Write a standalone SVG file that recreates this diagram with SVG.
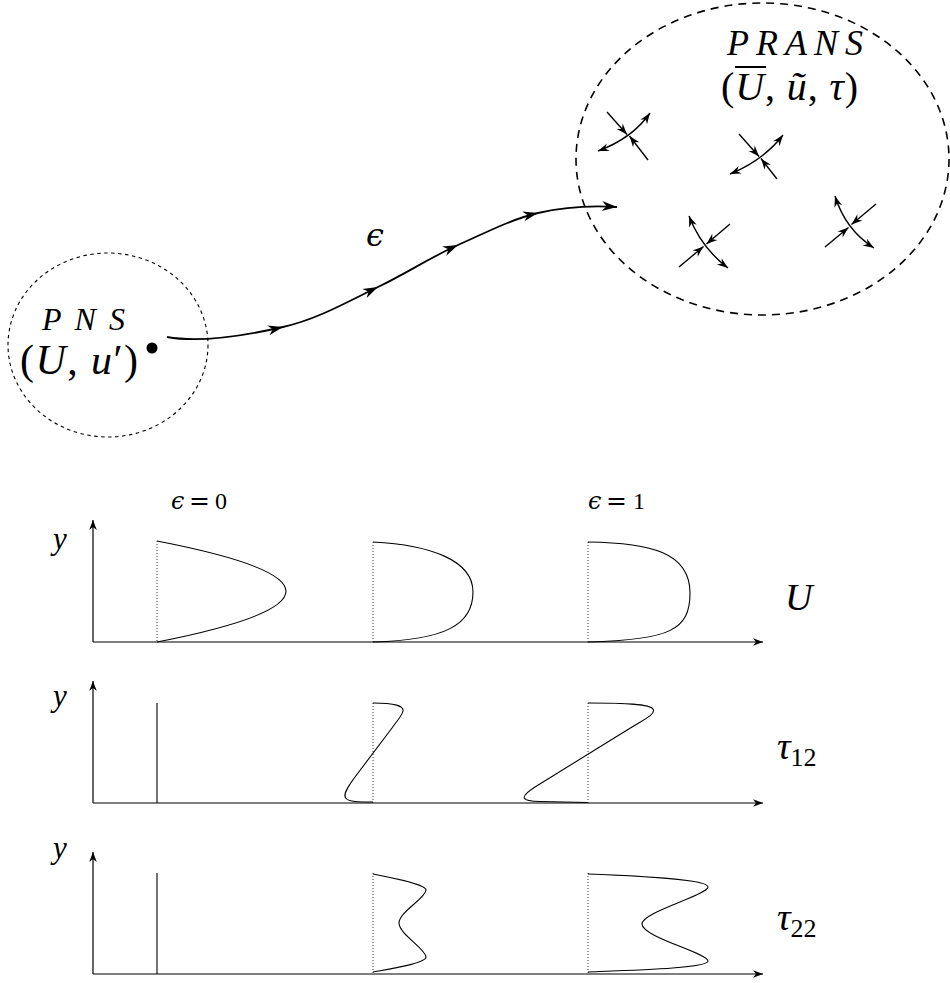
<svg xmlns="http://www.w3.org/2000/svg" width="950" height="983" viewBox="0 0 950 983">
<style>
.m{font-family:"Liberation Serif","DejaVu Serif",serif;font-style:italic;fill:#000}
.r{font-style:normal}
.e{font-family:"DejaVu Serif",serif;font-style:italic}
.q{font-family:"DejaVu Serif",serif;font-style:normal}
.ax{fill:none;stroke:#000;stroke-width:1.2}
.pf{fill:none;stroke:#000;stroke-width:1.1}
.dt{fill:none;stroke:#333;stroke-width:1;stroke-dasharray:1 2}
.cr{fill:none;stroke:#000;stroke-width:1.4}
</style>
<defs>
<marker id="big" viewBox="-16 -6 17 12" refX="0" refY="0" markerWidth="17" markerHeight="12" markerUnits="userSpaceOnUse" orient="auto">
<path d="M0,0 L-15,-5 L-10.5,0 L-15,5 Z" fill="#000"/>
</marker>
<marker id="sm" viewBox="-12 -5 13 10" refX="0" refY="0" markerWidth="13" markerHeight="10" markerUnits="userSpaceOnUse" orient="auto-start-reverse">
<path d="M0,0 L-11,-4 L-7.5,0 L-11,4 Z" fill="#000"/>
</marker>
<marker id="ax" viewBox="-11 -5 12 10" refX="0" refY="0" markerWidth="12" markerHeight="10" markerUnits="userSpaceOnUse" orient="auto">
<path d="M0,0 L-10,-3.8 L-7,0 L-10,3.8 Z" fill="#000"/>
</marker>
</defs>
<rect width="950" height="983" fill="#fff"/>

<g id="node-pns">
<ellipse cx="108" cy="345" rx="100" ry="92" fill="none" stroke="#000" stroke-width="1.1" stroke-dasharray="3.5 3.5"/>
<text class="m"><tspan x="42" y="330" font-size="32" textLength="83" lengthAdjust="spacing">PNS</tspan><tspan x="20" y="374" font-size="42" textLength="118" lengthAdjust="spacing"><tspan class="r">(</tspan>U<tspan class="r">, </tspan>u<tspan class="r">′)</tspan></tspan></text>
<circle cx="152" cy="348" r="5.5" fill="#000"/>
</g>

<g id="node-prans">
<ellipse cx="762.5" cy="159" rx="186.5" ry="156" fill="none" stroke="#000" stroke-width="1.6" stroke-dasharray="8 6"/>
<text class="m"><tspan x="727" y="55" font-size="36" textLength="136" lengthAdjust="spacing">PRANS</tspan><tspan x="721" y="100" font-size="40" textLength="137" lengthAdjust="spacing"><tspan class="r">(</tspan>U<tspan class="r">, </tspan>ũ<tspan class="r">, </tspan>τ<tspan class="r">)</tspan></tspan></text>
<line x1="735" y1="67" x2="766" y2="67" stroke="#000" stroke-width="2"/>
<g id="crosses">
<path class="cr" d="M607,112 L627,134.5" marker-end="url(#sm)"/>
<path class="cr" d="M648,160 L629.5,136" marker-end="url(#sm)"/>
<path class="cr" d="M598,151 Q632.4,138.3 650,113" marker-start="url(#sm)" marker-end="url(#sm)"/>
<path class="cr" d="M739,134 L759,156.5" marker-end="url(#sm)"/>
<path class="cr" d="M777,179 L761,158.5" marker-end="url(#sm)"/>
<path class="cr" d="M730,174 Q763.7,160.1 783,135" marker-start="url(#sm)" marker-end="url(#sm)"/>
<path class="cr" d="M679,267 L703.5,246.5" marker-end="url(#sm)"/>
<path class="cr" d="M730,224 L706.5,244" marker-end="url(#sm)"/>
<path class="cr" d="M689,216 Q701.2,247.8 728,268" marker-start="url(#sm)" marker-end="url(#sm)"/>
<path class="cr" d="M825,247 L848.5,227.5" marker-end="url(#sm)"/>
<path class="cr" d="M876,204 L851.5,224.5" marker-end="url(#sm)"/>
<path class="cr" d="M835,196 Q845.5,229.8 874,248" marker-start="url(#sm)" marker-end="url(#sm)"/>
</g>
</g>

<g id="connectors">
<path d="M167,337 C200,343 248,335 283,327 C318,319 349,301 378,287 C407,273 431,257 458,245 C485,233 512,219 538,213 C564,207 592,205.5 617,207" fill="none" stroke="#000" stroke-width="1.8" marker-mid="url(#big)" marker-end="url(#big)"/>
<text x="366" y="246" class="e" font-size="32">ϵ</text>
</g>

<g id="plot-U">
<path class="ax" d="M93,642 L763,642" marker-end="url(#ax)"/>
<path class="ax" d="M93,642 L93,520" marker-end="url(#ax)"/>
<text class="m" x="53" y="549" font-size="31">y</text>
<text font-size="24" y="509"><tspan class="e" x="171">ϵ</tspan><tspan class="q" x="189" font-size="25">=</tspan><tspan class="m r" x="215">0</tspan></text>
<text font-size="24" y="509"><tspan class="e" x="588">ϵ</tspan><tspan class="q" x="606" font-size="25">=</tspan><tspan class="m r" x="633">1</tspan></text>
<line class="dt" x1="157" y1="541" x2="157" y2="642"/>
<line class="dt" x1="373" y1="542" x2="373" y2="642"/>
<line class="dt" x1="588" y1="542" x2="588" y2="642"/>
<path class="pf" d="M157,541 Q415,591 157,642"/>
<path class="pf" d="M373,542 C430,545 473,560 473,592 C473,625 445,640 373,642"/>
<path class="pf" d="M588,542 C650,543 690,552 690,593 C690,630 670,640 588,642"/>
<text class="m" x="785" y="610" font-size="38">U</text>
</g>

<g id="plot-tau12">
<path class="ax" d="M93,803 L763,803" marker-end="url(#ax)"/>
<path class="ax" d="M93,803 L93,681" marker-end="url(#ax)"/>
<text class="m" x="53" y="706" font-size="31">y</text>
<line x1="157" y1="703" x2="157" y2="803" stroke="#000" stroke-width="1.1"/>
<line class="dt" x1="373" y1="703" x2="373" y2="803"/>
<line class="dt" x1="588" y1="703" x2="588" y2="803"/>
<path class="pf" d="M373,703 C395,703 404,706 403,711 C402,716 396,722 392,728 L355,777 C337,801 343,802 373,802"/>
<path class="pf" d="M588,703 C625,703 650,704 653,709 C656,714 645,719 632,727 L535,787 C518,798 522,801 540,801.5 L588,802.5"/>
<text class="m" font-size="38" x="777" y="759">τ<tspan class="r" font-size="26" dy="7">12</tspan></text>
</g>

<g id="plot-tau22">
<path class="ax" d="M93,974 L763,974" marker-end="url(#ax)"/>
<path class="ax" d="M93,974 L93,852" marker-end="url(#ax)"/>
<text class="m" x="53" y="858" font-size="31">y</text>
<line x1="157" y1="873" x2="157" y2="974" stroke="#000" stroke-width="1.1"/>
<line class="dt" x1="373" y1="873" x2="373" y2="974"/>
<line class="dt" x1="588" y1="873" x2="588" y2="974"/>
<path class="pf" d="M373,874 C390,877.5 426,884 426,890 C426,898 399,912 399,923 C399,934 426,949 426,957 C426,963 395,968 373,972"/>
<path class="pf" d="M588,874 C640,876 708,879 708,887 C708,895 642,912 642,924 C642,937 708,953 708,961 C708,968 640,970 588,972"/>
<text class="m" font-size="38" x="777" y="930">τ<tspan class="r" font-size="26" dy="7">22</tspan></text>
</g>
</svg>
